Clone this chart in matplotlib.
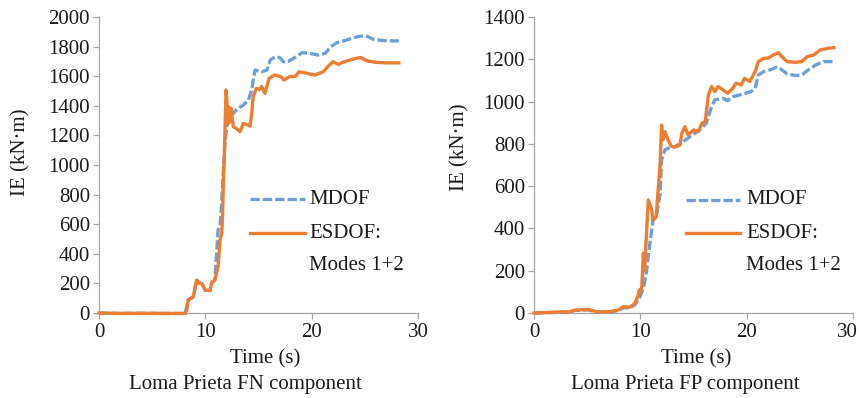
import matplotlib
matplotlib.use("Agg")
import matplotlib.pyplot as plt
from matplotlib.transforms import offset_copy

# ---------------- data ----------------
# Loma Prieta FN component
fn_mdof_t = [0, 2, 4, 6, 8.1, 8.3, 8.4, 8.87, 9.19, 9.4, 9.7, 9.97, 10.44, 10.6, 10.9,
             11.2, 11.38, 11.5, 11.7, 11.85, 12.0, 12.2, 12.63, 13.0, 13.58, 14.05, 14.36,
             14.5, 14.68, 15.3, 15.8, 16.1, 16.56, 17.0, 17.34, 17.8, 18.5, 19.1, 19.8,
             20.6, 21.3, 21.8, 22.4, 23.3, 24.3, 25.1, 25.8, 26.8, 28.2]
fn_mdof_v = [0, -3, -2, -3, -3, 60, 90, 110, 223, 203, 198, 155, 151, 205, 223,
             561, 590, 700, 966, 1150, 1250, 1330, 1349, 1380, 1405, 1439, 1507,
             1574, 1642, 1630, 1642, 1709, 1732, 1725, 1698, 1700, 1730, 1759, 1755,
             1743, 1755, 1800, 1827, 1845, 1867, 1874, 1849, 1840, 1838]

fn_esdof_t = [0, 2, 4, 6, 8.1, 8.25, 8.4, 8.7, 8.87, 9.05, 9.19, 9.4, 9.7, 9.97, 10.44,
              10.6, 10.9, 11.2, 11.38, 11.54, 11.62, 11.7, 11.78, 11.85, 11.95, 12.02,
              12.08, 12.17, 12.2, 12.4, 12.5, 12.63, 12.95, 13.26, 13.58, 14.0, 14.2,
              14.36, 14.5, 14.8, 15.1, 15.3, 15.6, 16.0, 16.5, 17.1, 17.4, 17.9, 18.5,
              18.8, 19.4, 20.3, 21.1, 21.5, 22.0, 22.5, 23.1, 23.8, 24.6, 25.2, 26.0,
              27.0, 28.2]
fn_esdof_v = [0, -3, -2, -3, -3, 20, 88, 100, 110, 180, 223, 203, 198, 155, 151,
              205, 223, 313, 493, 538, 650, 899, 1050, 1236, 1507, 1450, 1290,
              1394, 1282, 1385, 1330, 1259, 1245, 1225, 1281, 1270, 1262,
              1349, 1462, 1518, 1510, 1530, 1484, 1585, 1608, 1597, 1574, 1597, 1600,
              1630, 1622, 1608, 1630, 1664, 1698, 1680, 1698, 1714, 1727, 1704, 1694,
              1690, 1690]

# Loma Prieta FP component
fp_mdof_t = [0, 1.5, 3.4, 3.85, 5.1, 5.9, 7.1, 7.9, 8.4, 9.0, 9.5, 9.97, 10.3, 10.6,
             10.9, 11.2, 11.5, 11.85, 12.0, 12.3, 12.6, 13.2, 13.73, 14.7, 15.6, 16.2,
             16.7, 17.0, 17.8, 18.2, 18.7, 19.3, 19.9, 20.4, 20.8, 21.1, 21.6, 22.2,
             22.8, 23.1, 23.8, 24.6, 25.2, 25.8, 26.5, 27.2, 28.2]
fp_mdof_v = [0, 2, 5, 12, 15, 5, 5, 12, 25, 24, 40, 77, 120, 203,
             330, 440, 455, 560, 723, 771, 779, 785, 800, 835, 866, 897,
             976, 1008, 1015, 1004, 1023, 1031, 1039, 1047, 1063, 1126, 1142, 1150,
             1162, 1158, 1131, 1123, 1126, 1150, 1173, 1189, 1189]

fp_esdof_t = [0, 1.5, 3.4, 3.85, 5.1, 5.9, 7.1, 7.9, 8.4, 9.0, 9.5, 9.8, 9.9, 10.0,
              10.15, 10.28, 10.4, 10.5, 10.75, 11.07, 11.2, 11.5, 11.6, 11.85, 12.0,
              12.1, 12.3, 12.6, 12.95, 13.4, 13.73, 13.9, 14.2, 14.5, 15.0, 15.45,
              15.8, 16.1, 16.4, 16.7, 17.0, 17.3, 17.8, 18.2, 18.7, 19.0, 19.5, 19.8,
              20.3, 20.8, 21.1, 21.6, 22.0, 22.5, 23.0, 23.3, 23.8, 24.6, 25.2, 25.7,
              26.3, 26.9, 27.7, 28.2]
fp_esdof_v = [0, 3, 6, 14, 17, 6, 6, 14, 30, 27, 46, 85, 109, 95,
              130, 282, 200, 300, 535, 487, 440, 455, 535, 692, 889,
              818, 858, 818, 787, 787, 795, 850, 881, 842, 866, 858,
              897, 905, 1031, 1071, 1047, 1071, 1055, 1039, 1063, 1087, 1079, 1110,
              1095, 1142, 1189, 1205, 1205, 1220, 1231, 1213, 1189, 1186, 1189, 1213,
              1220, 1244, 1252, 1255]

x_ticks = [0, 10, 20, 30]
fn_y_ticks = list(range(0, 2001, 200))
fp_y_ticks = list(range(0, 1401, 200))
series_labels = ["MDOF", "ESDOF:", "Modes 1+2"]
x_label = "Time (s)"
y_label = "IE (kN·m)"
titles = ["Loma Prieta FN component", "Loma Prieta FP component"]

# ---------------- style ----------------
BLUE = "#6E9FD8"
ORANGE = "#ED7D31"
GRAY = "#A6A6A6"
TXT = "#1a1a1a"
plt.rcParams['font.family'] = ['Liberation Serif', 'DejaVu Serif']
FS = 15
LW = 2.4
DASH = (2.8, 0.9)

fig = plt.figure(figsize=(8.59, 3.98), dpi=100)
ax1 = fig.add_axes([99/859, 85/398, 319/859, 296/398])
ax2 = fig.add_axes([534/859, 85/398, 319/859, 296/398])

configs = [
    (ax1, fn_mdof_t, fn_mdof_v, fn_esdof_t, fn_esdof_v, fn_y_ticks, titles[0],
     (-0.245, 0.544), (0.52, -0.155), (0.458, -0.243),
     (0.473, 0.646, 0.658), (0.385, 0.270, 0.162), False),
    (ax2, fp_mdof_t, fp_mdof_v, fp_esdof_t, fp_esdof_v, fp_y_ticks, titles[1],
     (-0.232, 0.561), (0.508, -0.155), (0.473, -0.243),
     (0.476, 0.646, 0.665), (0.383, 0.269, 0.159), True),
]

for (ax, mt, mv, et, ev, yt, title, ylc, xlc, tpos, lgx, lgy, shift_last) in configs:
    ax.plot(mt, mv, color=BLUE, lw=LW, dashes=DASH, clip_on=False, zorder=3)
    ax.plot(et, ev, color=ORANGE, lw=LW, clip_on=False, zorder=4,
            solid_joinstyle='round')
    ax.set_xlim(0, 30)
    ax.set_ylim(0, yt[-1])
    ax.set_xticks(x_ticks)
    ax.set_yticks(yt)
    for s in ['top', 'right']:
        ax.spines[s].set_visible(False)
    for s in ['left', 'bottom']:
        ax.spines[s].set_color(GRAY)
        ax.spines[s].set_linewidth(0.9)
    ax.tick_params(axis='both', colors=GRAY, labelcolor=TXT, labelsize=FS,
                   length=4, width=0.9, direction='out')
    ax.tick_params(axis='y', pad=2.5)
    ax.tick_params(axis='x', pad=3)
    ax.set_ylabel(y_label, fontsize=FS, color=TXT)
    ax.yaxis.set_label_coords(*ylc)
    ax.set_xlabel(x_label, fontsize=FS, color=TXT)
    ax.xaxis.set_label_coords(*xlc)
    ax.xaxis.label.set_va('center')
    ax.yaxis.label.set_va('center')
    ax.text(tpos[0], tpos[1], title, transform=ax.transAxes, ha='center',
            va='center', fontsize=FS, color=TXT)
    if shift_last:
        fig.canvas.draw()
        lab = ax.get_xticklabels()[-1]
        lab.set_transform(offset_copy(lab.get_transform(), fig=fig, x=-6, y=0,
                                      units='dots'))
    # legend keys
    ax.plot([lgx[0], lgx[1]], [lgy[0], lgy[0]], transform=ax.transAxes,
            color=BLUE, lw=LW, dashes=DASH, clip_on=False)
    ax.plot([lgx[0], lgx[1]], [lgy[1], lgy[1]], transform=ax.transAxes,
            color=ORANGE, lw=LW, clip_on=False)
    ax.text(lgx[2], lgy[0], series_labels[0], transform=ax.transAxes,
            ha='left', va='center', fontsize=FS, color=TXT)
    ax.text(lgx[2], lgy[1], series_labels[1], transform=ax.transAxes,
            ha='left', va='center', fontsize=FS, color=TXT)
    ax.text(lgx[2], lgy[2], series_labels[2], transform=ax.transAxes,
            ha='left', va='center', fontsize=FS, color=TXT)

fig.savefig("out.png", dpi=100)
